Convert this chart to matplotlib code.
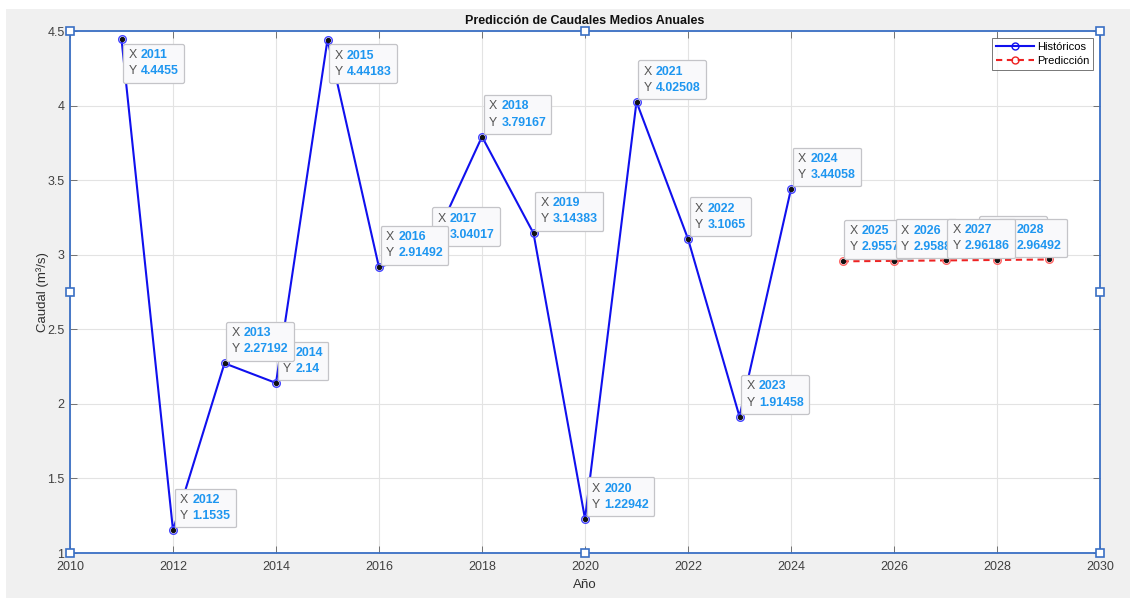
import matplotlib
matplotlib.use("Agg")
import matplotlib.pyplot as plt
from matplotlib.offsetbox import TextArea, HPacker, VPacker, AnnotationBbox
from matplotlib.patches import Rectangle
from matplotlib.lines import Line2D

plt.rcParams['font.family'] = ['Liberation Sans', 'DejaVu Sans']

# ---------------- data ----------------
years_hist = [2011, 2012, 2013, 2014, 2015, 2016, 2017, 2018, 2019, 2020, 2021, 2022, 2023, 2024]
caudal_hist = [4.4455, 1.1535, 2.27192, 2.14, 4.44183, 2.91492, 3.04017, 3.79167,
               3.14383, 1.22942, 4.02508, 3.1065, 1.91458, 3.44058]
years_pred = [2025, 2026, 2027, 2028, 2029]
caudal_pred = [2.95574, 2.9588, 2.96186, 2.96492, 2.96798]
xticks = [2010, 2012, 2014, 2016, 2018, 2020, 2022, 2024, 2026, 2028, 2030]
yticks = [1, 1.5, 2, 2.5, 3, 3.5, 4, 4.5]
title = "Predicción de Caudales Medios Anuales"
xlabel = "Año"
ylabel = "Caudal (m³/s)"
legend_labels = ["Históricos", "Predicción"]

# ---------------- style ----------------
W, H = 1136, 598
fig = plt.figure(figsize=(W / 100, H / 100), dpi=100, facecolor='white')
fig.patches.append(Rectangle((6 / W, 0), (1130 - 6) / W, (H - 9) / H,
                             transform=fig.transFigure, facecolor='#f0f0f0',
                             edgecolor='none', zorder=-10))

ax = fig.add_axes([70 / W, (H - 553) / H, (1100 - 70) / W, (553 - 31) / H])
ax.set_facecolor('white')

blue = '#1010ee'
red = '#ee2222'
spine_c = '#3a6fc4'
tip_blue = '#1e96f0'

ax.plot(years_hist, caudal_hist, '-', color=blue, lw=1.5, marker='o', ms=5.5,
        mfc='none', mec='#4444ff', mew=1.0, zorder=3)
ax.plot(years_pred, caudal_pred, '--', color=red, lw=1.5, marker='o', ms=5.5,
        mfc='none', mec='#ff6666', mew=1.0, zorder=3, dashes=(3, 2.2))
ax.plot(years_hist + years_pred, caudal_hist + caudal_pred, 'o', ms=2.8,
        color='#111111', lw=0, zorder=4)

ax.set_xlim(2010, 2030)
ax.set_ylim(1, 4.5)
ax.set_xticks(xticks)
ax.set_yticks(yticks)
ax.set_yticklabels(['%g' % v for v in yticks])
ax.grid(True, color='#e3e3e3', lw=0.8)
ax.set_axisbelow(True)
ax.tick_params(direction='in', length=5, width=0.6, color='#606060',
               labelsize=9, labelcolor='#404040', top=True, right=True)
ax.tick_params(axis='x', pad=6)
ax.tick_params(axis='y', pad=4)
for s in ax.spines.values():
    s.set_color(spine_c)
    s.set_linewidth(1.3)

ax.set_title(title, fontsize=9, fontweight='bold', color='#111111', pad=5)
ax.set_xlabel(xlabel, fontsize=9.5, color='#303030', labelpad=4)
ax.set_ylabel(ylabel, fontsize=9.5, color='#303030', labelpad=-1)

# selection handles
hx = [0, 0.5, 1, 0, 1, 0, 0.5, 1]
hy = [1, 1, 1, 0.5, 0.5, 0, 0, 0]
ax.plot(hx, hy, 's', transform=ax.transAxes, ms=5.5, mfc='white', mec=spine_c,
        mew=1.2, clip_on=False, zorder=20, lw=0)

# legend
handles = [Line2D([], [], color=blue, lw=1.5, marker='o', ms=5, mfc='none', mec=blue),
           Line2D([], [], color=red, lw=1.5, ls='--', marker='o', ms=5, mfc='none', mec=red,
                  dashes=(3, 2.2))]
leg = ax.legend(handles, legend_labels, loc='upper right', bbox_to_anchor=(0.9935, 0.9866),
                borderaxespad=0, fontsize=8, frameon=True, fancybox=False,
                handlelength=3.4, handletextpad=0.3, borderpad=0.35, labelspacing=0.35)
leg.get_frame().set_edgecolor('#555555')
leg.get_frame().set_linewidth(0.7)
leg.set_zorder(30)

# data tips
all_x = years_hist + years_pred
all_y = caudal_hist + caudal_pred
place = ['br', 'ar', 'ar', 'ar', 'br', 'ar', 'ar', 'ar', 'ar', 'ar', 'ar', 'ar', 'ar', 'ar',
         'ar', 'ar', 'ar', 'ar', 'al']
zord = [10, 10, 11, 9, 10, 11, 9, 10, 10, 10, 10, 10, 10, 10,
        8, 9, 11, 10, 7]
fs = 8.9
for xv, yv, p, z in zip(all_x, all_y, place, zord):
    r1 = HPacker(children=[TextArea('X', textprops=dict(color='#555555', fontsize=fs)),
                           TextArea('%d' % xv, textprops=dict(color=tip_blue, fontsize=fs,
                                                               fontweight='bold'))],
                 pad=0, sep=3, align='baseline')
    r2 = HPacker(children=[TextArea('Y', textprops=dict(color='#555555', fontsize=fs)),
                           TextArea('%g' % yv, textprops=dict(color=tip_blue, fontsize=fs,
                                                               fontweight='bold'))],
                 pad=0, sep=3, align='baseline')
    box = VPacker(children=[r1, r2], pad=0, sep=3, align='left')
    if p == 'br':
        xybox, align = (7, -10), (0, 1)
    elif p == 'al':
        xybox, align = (-7, 10), (1, 0)
    else:
        xybox, align = (7, 8), (0, 0)
    ab = AnnotationBbox(box, (xv, yv), xybox=xybox, xycoords='data',
                        boxcoords='offset pixels', box_alignment=align,
                        frameon=True, pad=0.38, annotation_clip=False,
                        bboxprops=dict(facecolor='#f9f9fb', edgecolor='#c4c4c8',
                                       linewidth=0.9,
                                       boxstyle='round,pad=0.38,rounding_size=0.12'))
    ab.set_zorder(z)
    ax.add_artist(ab)

fig.savefig('out.png', dpi=100, facecolor=fig.get_facecolor())
